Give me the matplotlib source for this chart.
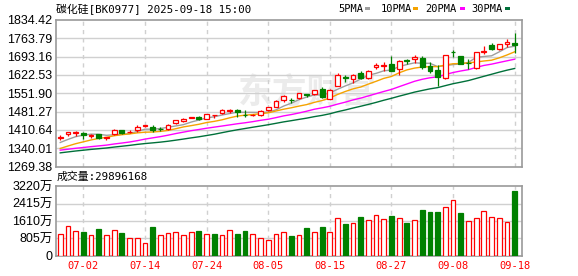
import numpy as np
import matplotlib
matplotlib.use("Agg")
import matplotlib.pyplot as plt
from matplotlib.patches import Rectangle

# ---------------- data ----------------
dates = ["06-27", "06-30", "07-01", "07-02", "07-03", "07-04", "07-07", "07-08", "07-09", "07-10",
         "07-11", "07-14", "07-15", "07-16", "07-17", "07-18", "07-21", "07-22", "07-23", "07-24",
         "07-25", "07-28", "07-29", "07-30", "07-31", "08-01", "08-04", "08-05", "08-06", "08-07",
         "08-08", "08-11", "08-12", "08-13", "08-14", "08-15", "08-18", "08-19", "08-20", "08-21",
         "08-22", "08-25", "08-26", "08-27", "08-28", "08-29", "09-01", "09-02", "09-03", "09-04",
         "09-05", "09-08", "09-09", "09-10", "09-11", "09-12", "09-15", "09-16", "09-17", "09-18"]

opens = [1379, 1393, 1398, 1399, 1388, 1393, 1378, 1393, 1411, 1401,
         1411, 1425, 1423, 1415, 1413, 1436, 1444, 1456, 1462, 1454,
         1467, 1474, 1483, 1489, 1469, 1467, 1468, 1486, 1500, 1525,
         1527, 1533, 1549, 1548, 1567, 1531, 1580, 1614, 1606, 1629,
         1610, 1655, 1656, 1665, 1645, 1679, 1683, 1688, 1657, 1642,
         1610, 1712, 1696, 1669, 1648, 1712, 1739, 1722, 1743, 1745]
highs = [1391, 1403, 1406, 1401, 1394, 1395, 1385, 1413, 1412, 1410,
         1430, 1431, 1431, 1421, 1432, 1449, 1455, 1462, 1465, 1473,
         1469, 1490, 1490, 1490, 1489, 1471, 1486, 1499, 1524, 1545,
         1533, 1553, 1550, 1566, 1575, 1567, 1629, 1622, 1625, 1638,
         1640, 1668, 1674, 1697, 1680, 1685, 1701, 1696, 1672, 1660,
         1700, 1719, 1697, 1683, 1711, 1734, 1745, 1743, 1760, 1786]
lows = [1372, 1388, 1388, 1377, 1380, 1375, 1373, 1390, 1395, 1398,
        1404, 1422, 1403, 1405, 1410, 1434, 1442, 1455, 1449, 1452,
        1458, 1471, 1475, 1460, 1460, 1463, 1466, 1485, 1498, 1520,
        1516, 1531, 1537, 1546, 1535, 1528, 1578, 1597, 1593, 1606,
        1608, 1645, 1639, 1637, 1623, 1664, 1670, 1647, 1629, 1578,
        1608, 1693, 1665, 1647, 1645, 1702, 1719, 1720, 1732, 1709]
closes = [1384, 1402, 1403, 1390, 1392, 1381, 1383, 1412, 1400, 1404,
          1423, 1428, 1411, 1413, 1430, 1447, 1453, 1461, 1452, 1471,
          1469, 1487, 1489, 1479, 1467, 1469, 1484, 1497, 1522, 1540,
          1525, 1552, 1547, 1565, 1537, 1565, 1622, 1611, 1623, 1612,
          1638, 1659, 1660, 1639, 1678, 1677, 1692, 1652, 1638, 1614,
          1698, 1710, 1666, 1667, 1710, 1716, 1723, 1742, 1749, 1737]
# closes of the 29 sessions before the first visible bar (needed for the moving averages)
prior_closes = [1294, 1296, 1299, 1298, 1300, 1302, 1304, 1303, 1306, 1308,
                1333, 1330, 1328, 1326, 1324, 1323, 1325, 1327, 1324, 1320,
                1308, 1314, 1318, 1319, 1321, 1343, 1350, 1360, 1373]
# volume in 万
volumes = [1016, 1391, 1157, 1078, 969, 1219, 969, 1204, 1032, 828,
           828, 594, 1313, 969, 1063, 1110, 969, 1110, 1125, 1016,
           985, 969, 1204, 985, 1125, 1016, 828, 735, 1016, 1110,
           891, 969, 1266, 1110, 1313, 1110, 1766, 1454, 1532, 1782,
           1672, 1907, 1719, 1829, 1766, 1500, 1672, 2110, 2016, 2016,
           2235, 2563, 1969, 1594, 1766, 2048, 1813, 1766, 1579, 2989.6168]

price_ticks = [1269.38, 1340.01, 1410.64, 1481.27, 1551.90, 1622.53, 1693.16, 1763.79, 1834.42]
vol_ticks = [0, 805, 1610, 2415, 3220]
vol_tick_labels = ["0", "805万", "1610万", "2415万", "3220万"]
ma_periods = [5, 10, 20, 30]
ma_labels = ["5PMA", "10PMA", "20PMA", "30PMA"]
title_text = "碳化硅[BK0977] 2025-09-18 15:00"
vol_title = "成交量:29896168"
watermark = "东方财富"

# ---------------- style ----------------
RED = "#ff0000"
GREEN = "#008000"
MA_COLORS = ["#9e9e9e", "#f5a300", "#ff00ff", "#00703a"]
GRID = "#d0d0d0"
FRAME = "#9a9a9a"
W, H = 578, 276

mono = ["DejaVu Sans Mono", "Noto Sans CJK SC"]
arial = ["Liberation Sans", "Noto Sans CJK SC"]

fig = plt.figure(figsize=(W / 100, H / 100), dpi=100)
fig.patch.set_facecolor("white")

L, R = 56, 522
ax = fig.add_axes([L / W, 1 - 166.5 / H, (R - L) / W, 146.5 / H])
axv = fig.add_axes([L / W, 1 - 255.5 / H, (R - L) / W, 69.2 / H])

n = len(closes)
x = np.arange(1, n + 1)
o = np.array(opens, float)
c = np.array(closes, float)
hi = np.array(highs, float)
lo = np.array(lows, float)

# ---- candles ----
bw = 0.62
for i in range(n):
    up = c[i] >= o[i]
    col = RED if up else GREEN
    top, bot = max(o[i], c[i]), min(o[i], c[i])
    ax.vlines(x[i], top, hi[i], color=col, lw=0.9, zorder=3)
    ax.vlines(x[i], lo[i], bot, color=col, lw=0.9, zorder=3)
    hgt = max(top - bot, 1.2)
    ax.add_patch(Rectangle((x[i] - bw / 2, bot), bw, hgt,
                           facecolor="white" if up else GREEN,
                           edgecolor=col, lw=0.9, zorder=4))

# ---- moving averages ----
allc = np.array(prior_closes + closes, float)
off = len(prior_closes)
for p, colr in zip(ma_periods, MA_COLORS):
    ma = np.array([allc[off + i - p + 1: off + i + 1].mean() for i in range(n)])
    ax.plot(x, ma, color=colr, lw=1.0, zorder=2)

# ---- axes formatting ----
ax.set_xlim(0.45, 60.95)
ax.set_ylim(price_ticks[0], price_ticks[-1])
ax.set_yticks(price_ticks)
ax.set_yticklabels([f"{v:.2f}" for v in price_ticks], family=arial, fontsize=9)
ax.set_xticks([])
grid_idx = list(range(3, n, 8))
for a in (ax, axv):
    for s in a.spines.values():
        s.set_color(FRAME)
        s.set_linewidth(1.2)
    a.tick_params(axis="both", length=0, pad=2.5)
    for gi in grid_idx:
        a.axvline(x[gi], color=GRID, lw=1.0, ls=(0, (3, 3)), zorder=1)
for v in price_ticks[1:-1]:
    ax.axhline(v, color=GRID, lw=1.0, zorder=1)

ax.text((238 - L) / (R - L), (166.5 - 92) / 146.5, watermark, transform=ax.transAxes,
        family=["Noto Sans CJK SC"], fontsize=25, fontweight="bold",
        color="#ebebeb", va="center", ha="left", zorder=0.5)

# ---- volume ----
prev = np.concatenate([[prior_closes[-1]], c[:-1]])
for i in range(n):
    up = c[i] >= prev[i]
    axv.bar(x[i], volumes[i], width=0.62, bottom=0,
            facecolor="white" if up else GREEN,
            edgecolor=RED if up else GREEN, lw=0.9, zorder=3)
axv.set_xlim(0.45, 60.95)
axv.set_ylim(0, 3220)
axv.set_yticks(vol_ticks)
axv.set_yticklabels(vol_tick_labels, family=arial, fontsize=9)
for v in vol_ticks[1:-1]:
    axv.axhline(v, color=GRID, lw=1.0, zorder=1)
axv.set_xticks(x[grid_idx])
axv.set_xticklabels([dates[i] for i in grid_idx], family=mono, fontsize=7.5, color=RED)
axv.tick_params(axis="x", pad=4)

# ---- texts ----
fig.text(56 / W, 1 - 9.5 / H, title_text, family=mono, fontsize=7.8, va="center", ha="left")
fig.text(57 / W, 1 - 177 / H, vol_title, family=mono, fontsize=7.8, va="center", ha="left")

leg_x = [338, 380.5, 425, 471]
sw_x = [365, 412.5, 459.5, 505]
for lab, lx, sx, colr in zip(ma_labels, leg_x, sw_x, MA_COLORS):
    fig.text(lx / W, 1 - 9 / H, lab, family=mono, fontsize=7.5, va="center", ha="left")
    fig.patches.append(Rectangle((sx / W, 1 - 9.8 / H), 5 / W, 2.4 / H,
                                 transform=fig.transFigure, facecolor=colr,
                                 edgecolor="none", figure=fig))

fig.savefig("out.png", dpi=100)
